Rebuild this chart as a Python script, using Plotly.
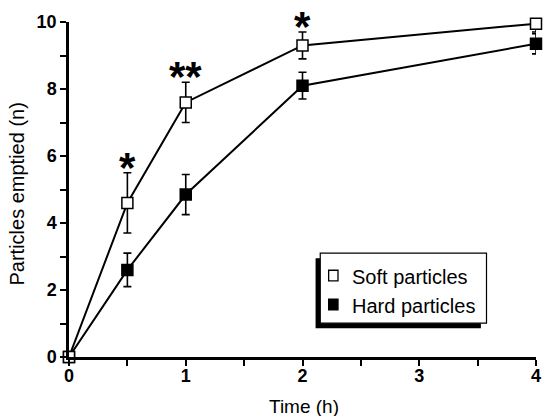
import plotly.graph_objects as go

time_h = [0, 0.5, 1, 2, 4]
soft = [0, 4.6, 7.6, 9.3, 9.95]
soft_err = [0, 0.9, 0.6, 0.4, 0.25]
hard = [0, 2.6, 4.85, 8.1, 9.35]
hard_err = [0, 0.5, 0.6, 0.4, 0.3]
sig_x = [0.5, 1, 2]
sig_text = ["*", "**", "*"]
series_names = ["Soft particles", "Hard particles"]

FONT = "Liberation Sans, Arial, sans-serif"

fig = go.Figure()
fig.add_trace(go.Scatter(
    x=time_h, y=hard, mode="lines+markers", name=series_names[1],
    line=dict(color="black", width=2),
    marker=dict(symbol="square", size=11, color="black", line=dict(color="black", width=1.5)),
    error_y=dict(type="data", array=hard_err, color="black", thickness=1.6, width=4),
    cliponaxis=False, showlegend=False))
fig.add_trace(go.Scatter(
    x=time_h, y=soft, mode="lines+markers", name=series_names[0],
    line=dict(color="black", width=2),
    marker=dict(symbol="square", size=11, color="white", line=dict(color="black", width=1.5)),
    error_y=dict(type="data", array=soft_err, color="black", thickness=1.6, width=4),
    cliponaxis=False, showlegend=False))

# significance asterisks
for xv, t in zip(sig_x, sig_text):
    i = time_h.index(xv)
    fig.add_annotation(x=xv, y=soft[i] + soft_err[i], text=t, showarrow=False,
                       yanchor="bottom", yshift=-20,
                       font=dict(family=FONT, size=42, color="black", weight="bold"))

# custom legend box with shadow
lx0, lx1, ly0, ly1 = 0.538, 0.894, 0.101, 0.310
fig.add_shape(type="rect", xref="paper", yref="paper",
              x0=lx0 - 0.010, x1=lx1 - 0.012, y0=ly0 - 0.015, y1=ly1 - 0.015,
              fillcolor="black", line=dict(width=0))
fig.add_shape(type="rect", xref="paper", yref="paper",
              x0=lx0, x1=lx1, y0=ly0, y1=ly1,
              fillcolor="white", line=dict(color="black", width=1.2))
key_y = [0.243, 0.157]
key_fill = ["white", "black"]
for ky, kf, nm in zip(key_y, key_fill, series_names):
    fig.add_shape(type="rect", xref="paper", yref="paper",
                  x0=0.556, x1=0.576, y0=ky - 0.016, y1=ky + 0.016,
                  fillcolor=kf, line=dict(color="black", width=1.3))
    fig.add_annotation(xref="paper", yref="paper", x=0.602, y=ky - 0.004, text=nm,
                       showarrow=False, xanchor="left", yanchor="middle",
                       font=dict(family=FONT, size=20, color="black"))

# axis titles
fig.add_annotation(xref="paper", yref="paper", x=0.504, y=-0.149, text="Time (h)",
                   showarrow=False, xanchor="center", yanchor="middle",
                   font=dict(family=FONT, size=19, color="black"))
fig.add_annotation(xref="paper", yref="paper", x=-0.112, y=0.487, text="Particles emptied (n)",
                   showarrow=False, textangle=-90, xanchor="center", yanchor="middle",
                   font=dict(family=FONT, size=20, color="black"))

fig.update_xaxes(range=[0, 4], tickvals=[0, 1, 2, 3, 4], ticks="outside", ticklen=6,
                 tickwidth=1.8, tickcolor="black", showline=True, linecolor="black",
                 linewidth=2.5, showgrid=False, zeroline=False, ticklabelstandoff=-5,
                 minor=dict(tickvals=[0.5, 1.5, 2.5, 3.5], ticks="outside", ticklen=6,
                            tickwidth=1.8, tickcolor="black", showgrid=False),
                 tickfont=dict(family=FONT, size=18, color="black", weight="bold"))
fig.update_yaxes(range=[0, 10], tickvals=[0, 2, 4, 6, 8, 10], ticks="outside", ticklen=6,
                 tickwidth=1.8, tickcolor="black", showline=True, linecolor="black",
                 linewidth=2.5, showgrid=False, zeroline=False,
                 minor=dict(tickvals=[1, 3, 5, 7, 9], ticks="outside", ticklen=6,
                            tickwidth=1.8, tickcolor="black", showgrid=False),
                 tickfont=dict(family=FONT, size=18, color="black", weight="bold"))

fig.update_layout(width=547, height=416, margin=dict(l=69, r=6, t=22, b=59),
                  plot_bgcolor="white", paper_bgcolor="white", showlegend=False)

fig.write_html("out.html")
